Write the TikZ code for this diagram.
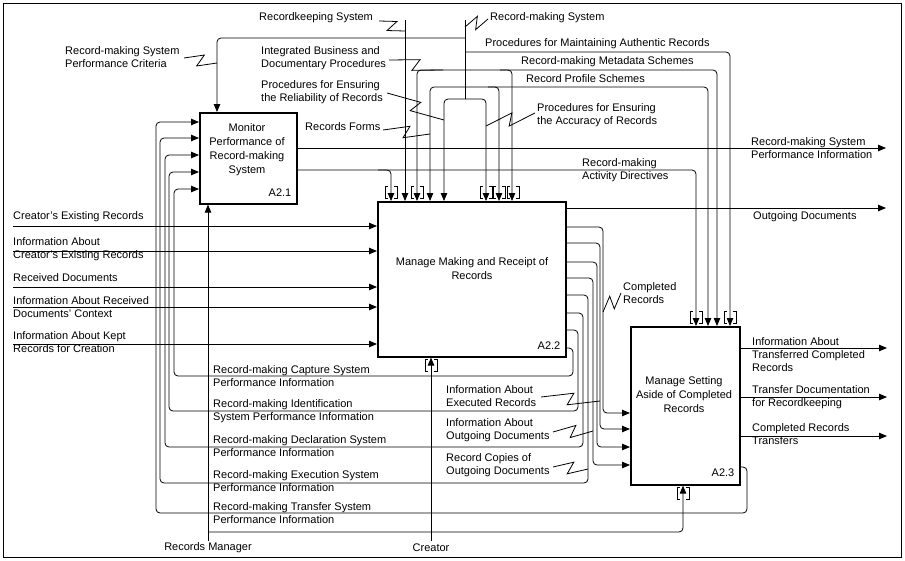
\documentclass[tikz,border=0pt]{standalone}
\usepackage{fontspec}
\setmainfont{Liberation Sans}
\usetikzlibrary{arrows.meta,calc}
\newcommand\squig[2]{\draw[sq] (#1) -- ($(#1)!0.5!(#2)!3pt!(#2)!6pt!90:(#2)$) -- ($(#1)!0.5!(#2)!3pt!(#1)!6pt!90:(#1)$) -- (#2);}
\newcommand\tunT[2]{\draw[tun] (#1-3,#2-15) -- (#1-6,#2-15) -- (#1-6,#2-3) -- (#1-3,#2-3) (#1+3,#2-15) -- (#1+6,#2-15) -- (#1+6,#2-3) -- (#1+3,#2-3);}
\newcommand\tunB[2]{\draw[tun] (#1-3,#2+15) -- (#1-6,#2+15) -- (#1-6,#2+3) -- (#1-3,#2+3) (#1+3,#2+15) -- (#1+6,#2+15) -- (#1+6,#2+3) -- (#1+3,#2+3);}
\begin{document}
\begin{tikzpicture}[x=1pt,y=-1pt,
  conn/.style={line width=0.8pt, rounded corners=4pt},
  sq/.style={line width=0.8pt, sharp corners},
  arr/.style={conn, -{Triangle[length=8pt,width=6.5pt]}},
  tun/.style={line width=0.8pt},
  box/.style={draw, line width=1.6pt, inner sep=0pt, anchor=north west},
  lbl/.style={font=\fontsize{11}{13}\selectfont, inner sep=0pt, align=left, anchor=west},
  btxt/.style={font=\fontsize{11}{14}\selectfont, inner sep=0pt, align=center},
  bid/.style={font=\fontsize{11}{13}\selectfont, inner sep=0pt}]
\useasboundingbox (0,0) rectangle (905,560);
\draw[line width=0.6pt] (3,3) rectangle (901,557);

% boxes
\node[box, minimum width=97, minimum height=91] (a21) at (199,112) {};
\node[box, minimum width=188, minimum height=155] (a22) at (377,201) {};
\node[box, minimum width=109, minimum height=158] (a23) at (630,326) {};
\node[btxt] (t21) at (247,150) {Monitor\\Performance of\\Record-making\\System};
\node[btxt] (t22) at (472,269) {Manage Making and Receipt of\\Records};
\node[btxt] (t23) at (684,395) {Manage Setting\\Aside of Completed\\Records};
\node[bid] (i21) at (280,193) {A2.1};
\node[bid] (i22) at (549,346) {A2.2};
\node[bid] (i23) at (723,473) {A2.3};

% top labels
\node[lbl] (lPC) at (65,57) {Record-making System\\Performance Criteria};
\node[lbl] (lRKS) at (259,18) {Recordkeeping System};
\node[lbl] (lRMS) at (490,18) {Record-making System};
\node[lbl] (lIB) at (261,58) {Integrated Business and\\Documentary Procedures};
\node[lbl] (lRel) at (261,92) {Procedures for Ensuring\\the Reliability of Records};
\node[lbl] (lRF) at (305,127) {Records Forms};
\node[lbl] (lMA) at (485,44) {Procedures for Maintaining Authentic Records};
\node[lbl] (lMS) at (521,62) {Record-making Metadata Schemes};
\node[lbl] (lPS) at (526,79) {Record Profile Schemes};
\node[lbl] (lAcc) at (537,115) {Procedures for Ensuring\\the Accuracy of Records};
\node[lbl] (lAD) at (582,170) {Record-making\\Activity Directives};
\node[lbl] (lPI) at (751,148) {Record-making System\\Performance Information};
\node[lbl] (lOD) at (753,217) {Outgoing Documents};

% left labels
\node[lbl] (lCER) at (13,217) {Creator's Existing Records};
\node[lbl] (lICER) at (13,249) {Information About\\Creator's Existing Records};
\node[lbl] (lRD) at (13,278) {Received Documents};
\node[lbl] (lIRD) at (13,307) {Information About Received\\Documents' Context};
\node[lbl] (lIKR) at (13,342) {Information About Kept\\Records for Creation};

% feedback labels
\node[lbl] (fCap) at (213,376) {Record-making Capture System\\Performance Information};
\node[lbl] (fId) at (213,411) {Record-making Identification\\System Performance Information};
\node[lbl] (fDec) at (213,446) {Record-making Declaration System\\Performance Information};
\node[lbl] (fExe) at (213,481) {Record-making Execution System\\Performance Information};
\node[lbl] (fTr) at (213,513) {Record-making Transfer System\\Performance Information};

% middle labels
\node[lbl] (lCR) at (623,293) {Completed\\Records};
\node[lbl] (lIER) at (446,396) {Information About\\Executed Records};
\node[lbl] (lIOD) at (446,430) {Information About\\Outgoing Documents};
\node[lbl] (lRCO) at (446,465) {Record Copies of\\Outgoing Documents};

% right output labels
\node[lbl] (lITR) at (752,355) {Information About\\Transferred Completed\\Records};
\node[lbl] (lTDR) at (752,397) {Transfer Documentation\\for Recordkeeping};
\node[lbl] (lCRT) at (752,434) {Completed Records\\Transfers};

% bottom labels
\node[font=\fontsize{11}{13}\selectfont, inner sep=0pt] (lRM) at (208,548) {Records Manager};
\node[font=\fontsize{11}{13}\selectfont, inner sep=0pt] (lCr) at (431,548) {Creator};

% coordinates
\coordinate (rmsTop) at (465,20);
\coordinate (rmsSplit) at (465,99);
\coordinate (rksTop) at (405,20);
\coordinate (oPI) at (886,148);
\coordinate (oOD) at (886,208);
\coordinate (oITR) at (887,348);
\coordinate (oTDR) at (887,397);
\coordinate (oCRT) at (887,436);
\coordinate (rmBot) at (208,541);
\coordinate (crBot) at (431,541);

% controls
\draw[conn] (rmsTop) -- (rmsSplit);
\draw[arr] (rmsSplit) -| (444,0 |- a22.north);
\draw[arr] (rmsSplit) -| (486,0 |- a22.north);
\draw[arr] (465,38) -| (217,0 |- a21.north);
\draw[arr] (465,52) -| (730,0 |- a23.north);
\draw[arr] (rksTop) -- (405,0 |- a22.north);
\draw[arr] (470,70) -| (417,0 |- a22.north);
\draw[arr] (470,70) -| (717,0 |- a23.north);
\draw[arr] (500,70) -| (512,0 |- a22.north);
\draw[arr] (470,87) -| (430,0 |- a22.north);
\draw[arr] (470,87) -| (708,0 |- a23.north);
\draw[arr] (488,87) -| (499,0 |- a22.north);
\draw[arr] (a21.east |- 0,170) -| (696,0 |- a23.north);
\draw[arr] (378,170) -| (391,0 |- a22.north);

% outputs
\draw[arr] (a21.east |- 0,148) -- (oPI);
\draw[arr] (a22.east |- 0,208) -- (oOD);
\draw[arr] (a23.east |- 0,348) -- (oITR);
\draw[arr] (a23.east |- 0,397) -- (oTDR);
\draw[arr] (a23.east |- 0,436) -- (oCRT);

% inputs to A2.2
\draw[arr] (13,226) -- (a22.west |- 0,226);
\draw[arr] (13,251) -- (a22.west |- 0,251);
\draw[arr] (13,287) -- (a22.west |- 0,287);
\draw[arr] (13,307) -- (a22.west |- 0,307);
\draw[arr] (13,344) -- (a22.west |- 0,344);

% A2.2 -> A2.3
\draw[arr] (a22.east |- 0,227) -| (603,413) -- (a23.west |- 0,413);
\draw[arr] (a22.east |- 0,243) -| (600,429) -- (a23.west |- 0,429);
\draw[arr] (a22.east |- 0,262) -| (597,447) -- (a23.west |- 0,447);
\draw[arr] (a22.east |- 0,278) -| (593,465) -- (a23.west |- 0,465);

% feedback loops
\draw[arr] (a22.east |- 0,348) -| (573,376) -| (174,189) -- (a21.west |- 0,189);
\draw[arr] (a22.east |- 0,330) -| (578,411) -| (169,172) -- (a21.west |- 0,172);
\draw[arr] (a22.east |- 0,313) -| (583,447) -| (165,155) -- (a21.west |- 0,155);
\draw[arr] (a22.east |- 0,295) -| (588,483) -| (160,138) -- (a21.west |- 0,138);
\draw[arr] (a23.east |- 0,467) -| (747,513) -| (156,122) -- (a21.west |- 0,122);

% mechanisms
\draw[arr] (rmBot) -- (208,0 |- a21.south);
\draw[arr] (208,532) -| (683,0 |- a23.south);
\draw[arr] (crBot) -- (431,0 |- a22.south);

% tunnels
\tunT{391}{201} \tunT{417}{201} \tunT{486}{201} \tunT{499}{201} \tunT{513}{201}
\tunT{696}{326} \tunT{730}{326}
\tunB{431}{356} \tunB{683}{484}

% squiggles
\coordinate (s1a) at (184,58); \coordinate (s1b) at (217,63);
\coordinate (s2a) at (379,21); \coordinate (s2b) at (405,31);
\coordinate (s3a) at (488,19); \coordinate (s3b) at (465,27);
\coordinate (s4a) at (389,60); \coordinate (s4b) at (443,70);
\coordinate (s5a) at (387,93); \coordinate (s5b) at (444,120);
\coordinate (s6a) at (383,130); \coordinate (s6b) at (430,134);
\coordinate (s7a) at (535,113); \coordinate (s7b) at (486,126);
\coordinate (s8a) at (621,293); \coordinate (s8b) at (603,312);
\coordinate (s9a) at (541,397); \coordinate (s9b) at (600,401);
\coordinate (s10a) at (553,432); \coordinate (s10b) at (593,431);
\coordinate (s11a) at (553,467); \coordinate (s11b) at (588,469);
\squig{s1a}{s1b} \squig{s2a}{s2b} \squig{s3a}{s3b} \squig{s4a}{s4b}
\squig{s5a}{s5b} \squig{s6a}{s6b} \squig{s7a}{s7b} \squig{s8a}{s8b}
\squig{s9a}{s9b} \squig{s10a}{s10b} \squig{s11a}{s11b}
\end{tikzpicture}
\end{document}
